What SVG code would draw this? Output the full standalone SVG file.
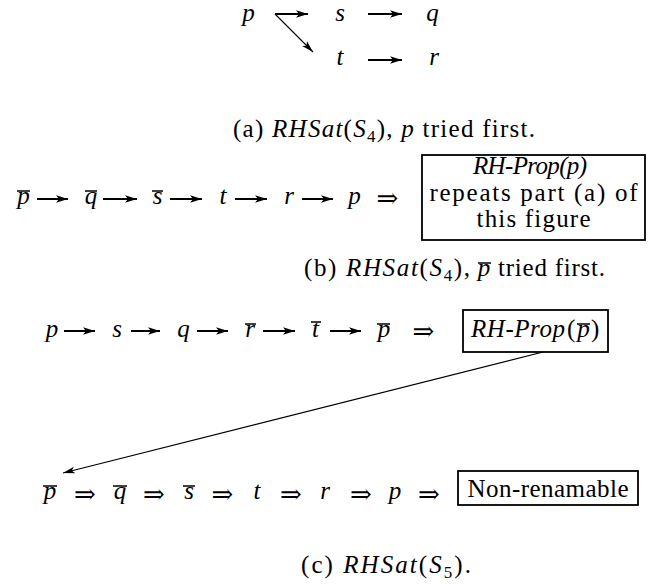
<svg xmlns="http://www.w3.org/2000/svg" width="650" height="584" viewBox="0 0 650 584">
<defs>
<style>
text{font-family:'Liberation Serif','Times New Roman',Tinos,'Nimbus Roman',Times,serif;font-size:25px;fill:#000}
.m{font-style:italic;text-anchor:middle}
.rc{text-anchor:middle}
.it{font-style:italic}
.imp{font-family:'DejaVu Serif',serif;font-size:26px;text-anchor:middle}
.box{fill:none;stroke:#000;stroke-width:1.8}
.thick{stroke:#000;stroke-width:2;fill:none}
.thin{stroke:#000;stroke-width:1.1;fill:none}
.bar{stroke:#000;stroke-width:1.5}
</style>
<marker id="ah" markerUnits="userSpaceOnUse" markerWidth="14" markerHeight="10" refX="12" refY="5" orient="auto"><path d="M0,1.3 L12,5 L0,8.7 L3,5 Z" fill="#000"/></marker>
<marker id="ahs" markerUnits="userSpaceOnUse" markerWidth="14" markerHeight="10" refX="12" refY="5" orient="auto"><path d="M0,1.6 L12,5 L0,8.4 L3,5 Z" fill="#000"/></marker>
</defs>
<rect width="650" height="584" fill="#fff"/>

<!-- part (a) -->
<g id="a_p"><text class="m" x="248.5" y="21">p</text></g>
<g id="a_s"><text class="m" x="340" y="21">s</text></g>
<g id="a_q"><text class="m" x="432.5" y="21">q</text></g>
<g id="a_t"><text class="m" x="340" y="65">t</text></g>
<g id="a_r"><text class="m" x="434" y="65">r</text></g>
<g id="cap_a"><text x="233" y="137" textLength="302" lengthAdjust="spacing">(a) <tspan class="it">RHSat</tspan>(<tspan class="it">S</tspan><tspan font-size="17" dy="5">4</tspan><tspan dy="-5">), </tspan><tspan class="it">p</tspan> tried first.</text></g>

<!-- part (b) -->
<g id="b_pbar"><text class="m" x="23.5" y="204">p</text><line class="bar" x1="17" y1="191" x2="30" y2="191"/></g>
<g id="b_qbar"><text class="m" x="91" y="204">q</text><line class="bar" x1="85" y1="191" x2="97" y2="191"/></g>
<g id="b_sbar"><text class="m" x="157.5" y="204">s</text><line class="bar" x1="152" y1="191" x2="163" y2="191"/></g>
<g id="b_t"><text class="m" x="223" y="204">t</text></g>
<g id="b_r"><text class="m" x="289" y="204">r</text></g>
<g id="b_p"><text class="m" x="354.5" y="204">p</text></g>
<g id="b_imp"><text class="imp" x="387.5" y="207">⇒</text></g>
<g id="b_box">
<rect class="box" x="422" y="155" width="223" height="85"/>
<text class="rc it" x="530" y="174" textLength="114" lengthAdjust="spacing">RH-Prop(p)</text>
<text class="rc" x="533.5" y="201" textLength="208" lengthAdjust="spacing">repeats part (a) of</text>
<text class="rc" x="533.5" y="227" textLength="114" lengthAdjust="spacing">this figure</text>
</g>
<g id="cap_b">
<text x="304" y="276" textLength="166" lengthAdjust="spacing">(b) <tspan class="it">RHSat</tspan>(<tspan class="it">S</tspan><tspan font-size="17" dy="5">4</tspan><tspan dy="-5">),</tspan></text>
<text class="m" x="484" y="276">p</text><line class="bar" x1="478" y1="263" x2="491" y2="263"/>
<text x="498" y="276" textLength="107" lengthAdjust="spacing">tried first.</text>
</g>

<!-- part (c) first row -->
<g id="c_p"><text class="m" x="52" y="337">p</text></g>
<g id="c_s"><text class="m" x="117" y="337">s</text></g>
<g id="c_q"><text class="m" x="183.5" y="337">q</text></g>
<g id="c_rbar"><text class="m" x="250" y="337">r</text><line class="bar" x1="245" y1="324" x2="256" y2="324"/></g>
<g id="c_tbar"><text class="m" x="315.5" y="337">t</text><line class="bar" x1="311" y1="322" x2="321" y2="322"/></g>
<g id="c_pbar"><text class="m" x="384" y="337">p</text><line class="bar" x1="377" y1="324" x2="390" y2="324"/></g>
<g id="c_imp"><text class="imp" x="423.5" y="340">⇒</text></g>
<g id="c_box">
<rect class="box" x="463" y="310" width="145" height="42"/>
<text class="it" x="471" y="337" textLength="94" lengthAdjust="spacing">RH-Prop</text>
<text x="567" y="337">(</text>
<text class="m" x="583.5" y="337">p</text>
<line class="bar" x1="577" y1="324" x2="590" y2="324"/>
<text x="591" y="337">)</text>
</g>

<!-- part (c) second row -->
<g id="d_pbar"><text class="m" x="50" y="499">p</text><line class="bar" x1="43" y1="486" x2="57" y2="486"/></g>
<g id="d_imp1"><text class="imp" x="85" y="503">⇒</text></g>
<g id="d_qbar"><text class="m" x="120" y="499">q</text><line class="bar" x1="113" y1="486" x2="127" y2="486"/></g>
<g id="d_imp2"><text class="imp" x="154" y="503">⇒</text></g>
<g id="d_sbar"><text class="m" x="189" y="499">s</text><line class="bar" x1="183" y1="486" x2="195" y2="486"/></g>
<g id="d_imp3"><text class="imp" x="222.5" y="503">⇒</text></g>
<g id="d_t"><text class="m" x="257" y="499">t</text></g>
<g id="d_imp4"><text class="imp" x="291" y="503">⇒</text></g>
<g id="d_r"><text class="m" x="325" y="499">r</text></g>
<g id="d_imp5"><text class="imp" x="361" y="503">⇒</text></g>
<g id="d_p"><text class="m" x="395" y="499">p</text></g>
<g id="d_imp6"><text class="imp" x="429" y="503">⇒</text></g>
<g id="d_box">
<rect class="box" x="458" y="471" width="180" height="34"/>
<text class="rc" x="548" y="497" textLength="161" lengthAdjust="spacing">Non-renamable</text>
</g>
<g id="cap_c"><text x="301" y="573" textLength="170" lengthAdjust="spacing">(c) <tspan class="it">RHSat</tspan>(<tspan class="it">S</tspan><tspan font-size="17" dy="5">5</tspan><tspan dy="-5">).</tspan></text></g>

<!-- connectors -->
<g id="connectors">
<line class="thick" x1="275" y1="14" x2="308" y2="14" marker-end="url(#ah)"/>
<line class="thin" x1="275" y1="14" x2="313" y2="52" marker-end="url(#ahs)"/>
<line class="thick" x1="368" y1="14" x2="402" y2="14" marker-end="url(#ah)"/>
<line class="thick" x1="368" y1="60" x2="402" y2="60" marker-end="url(#ah)"/>
<line class="thick" x1="37" y1="199" x2="68" y2="199" marker-end="url(#ah)"/>
<line class="thick" x1="103" y1="199" x2="137" y2="199" marker-end="url(#ah)"/>
<line class="thick" x1="170" y1="199" x2="202" y2="199" marker-end="url(#ah)"/>
<line class="thick" x1="235" y1="199" x2="267" y2="199" marker-end="url(#ah)"/>
<line class="thick" x1="302" y1="199" x2="333" y2="199" marker-end="url(#ah)"/>
<line class="thick" x1="64" y1="331" x2="95" y2="331" marker-end="url(#ah)"/>
<line class="thick" x1="131" y1="331" x2="160" y2="331" marker-end="url(#ah)"/>
<line class="thick" x1="197" y1="331" x2="228" y2="331" marker-end="url(#ah)"/>
<line class="thick" x1="263" y1="331" x2="295" y2="331" marker-end="url(#ah)"/>
<line class="thick" x1="330" y1="331" x2="361" y2="331" marker-end="url(#ah)"/>
<line class="thin" x1="543" y1="352" x2="63" y2="473" marker-end="url(#ahs)"/>
</g>
</svg>
